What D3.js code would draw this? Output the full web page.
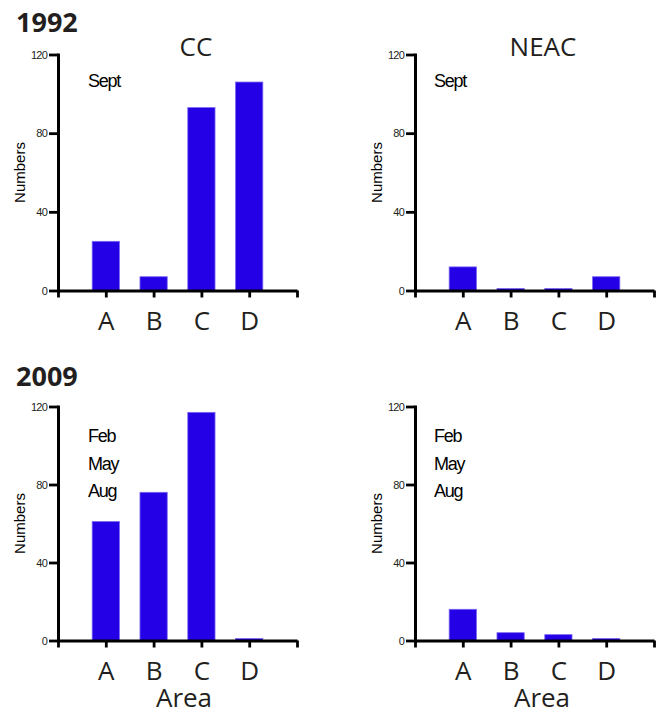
<!DOCTYPE html>
<html>
<head>
<meta charset="utf-8">
<script src="https://cdn.jsdelivr.net/npm/d3@7"></script>
<style>
  html, body { margin: 0; padding: 0; background: #ffffff; }
  svg { display: block; }
</style>
</head>
<body>
<svg id="chart" width="661" height="715"></svg>
<script>
// Sampling areas along the x axis
const areas = ["A", "B", "C", "D"];
// Numbers caught per area
const cc1992 = [25, 7, 93, 106];
const neac1992 = [12, 1, 1, 7];
const cc2009 = [61, 76, 117, 1];
const neac2009 = [16, 4, 3, 1];
// Y axis tick values
const yTicks = [0, 40, 80, 120];
// Survey months printed inside each panel
const months1992 = ["Sept"];
const months2009 = ["Feb", "May", "Aug"];
const years = ["1992", "2009"];
const stocks = ["CC", "NEAC"];

const svg = d3.select("#chart");
const BAR = "#2400e6";
const INK = "#231f20";
const TITLE_FONT = "'Open Sans', 'Noto Sans', sans-serif";
const ARIAL = "'Liberation Sans', Arial, sans-serif";

// layout of the 2x2 grid
const cols = [{ x0: 58, x1: 297, noteX: 88, titleX: 196, areaX: 184 },
              { x0: 415, x1: 654, noteX: 434, titleX: 543, areaX: 542 }];
const rows = [{ top: 54.5, zero: 290.5 }, { top: 406.5, zero: 640.5 }];

const panels = [
  { r: 0, c: 0, values: cc1992, notes: months1992, title: stocks[0] },
  { r: 0, c: 1, values: neac1992, notes: months1992, title: stocks[1] },
  { r: 1, c: 0, values: cc2009, notes: months2009, title: null },
  { r: 1, c: 1, values: neac2009, notes: months2009, title: null }
];

// year headings
svg.append("text").attr("x", 16).attr("y", 32)
  .attr("font-family", TITLE_FONT).attr("font-weight", 700).attr("font-size", 27)
  .attr("fill", INK).text(years[0]);
svg.append("text").attr("x", 16).attr("y", 386)
  .attr("font-family", TITLE_FONT).attr("font-weight", 700).attr("font-size", 27)
  .attr("fill", INK).text(years[1]);

panels.forEach(p => {
  const col = cols[p.c], row = rows[p.r];
  const g = svg.append("g");

  const y = d3.scaleLinear().domain([0, 120]).range([row.zero, row.top]);
  // slots 0..5: categories sit on 1..4, the ends carry bare ticks
  const x = d3.scaleLinear().domain([0, 5]).range([col.x0, col.x1]);
  const step = x(1) - x(0);
  const bw = step * 0.57;

  // bars
  g.selectAll("rect.bar").data(p.values).join("rect")
    .attr("class", "bar")
    .attr("x", (d, i) => x(i + 1) - bw / 2)
    .attr("width", bw)
    .attr("y", d => y(d))
    .attr("height", d => y(0) - y(d))
    .attr("fill", BAR)
    .attr("stroke", "#7866f2")
    .attr("stroke-width", 0.8);

  // y axis
  const yAxis = g.append("g")
    .attr("transform", `translate(${col.x0},0)`)
    .call(d3.axisLeft(y).tickValues(yTicks).tickSize(9).tickSizeOuter(0).tickPadding(2));
  yAxis.select(".domain").attr("stroke", "#000").attr("stroke-width", 3).attr("stroke-linecap", "square");
  yAxis.selectAll(".tick line").attr("stroke", "#000").attr("stroke-width", 2.8);
  yAxis.selectAll(".tick text")
    .attr("font-family", ARIAL).attr("font-size", 11).attr("letter-spacing", -0.8)
    .attr("fill", INK);

  // x axis
  const xAxis = g.append("g")
    .attr("transform", `translate(0,${row.zero})`)
    .call(d3.axisBottom(x).tickValues([0, 1, 2, 3, 4, 5]).tickSize(7).tickSizeOuter(0)
      .tickPadding(14).tickFormat(v => (v >= 1 && v <= 4) ? areas[v - 1] : ""));
  xAxis.select(".domain").attr("stroke", "#000").attr("stroke-width", 3);
  xAxis.selectAll(".tick line").attr("stroke", "#000").attr("stroke-width", 2.8);
  xAxis.selectAll(".tick text")
    .attr("font-family", TITLE_FONT).attr("font-size", 26).attr("fill", INK);

  // y axis title
  g.append("text")
    .attr("transform", `translate(${col.x0 - 33.5},${(row.top + row.zero) / 2}) rotate(-90)`)
    .attr("text-anchor", "middle")
    .attr("font-family", ARIAL).attr("font-size", 15)
    .attr("fill", "#000").text("Numbers");

  // survey months
  g.selectAll("text.note").data(p.notes).join("text")
    .attr("class", "note")
    .attr("x", col.noteX)
    .attr("y", (d, i) => (p.r === 0 ? 87 : row.top + 35.5) + i * 27.5)
    .attr("font-family", ARIAL).attr("font-size", 18).attr("letter-spacing", -1.3)
    .attr("fill", "#000").text(d => d);

  // stock heading
  if (p.title) {
    g.append("text").attr("x", col.titleX).attr("y", 56)
      .attr("text-anchor", "middle")
      .attr("font-family", TITLE_FONT).attr("font-size", 26)
      .attr("fill", INK).text(p.title);
  }

  // x axis title under the lower row
  if (p.r === 1) {
    g.append("text").attr("x", col.areaX).attr("y", 707)
      .attr("text-anchor", "middle")
      .attr("font-family", TITLE_FONT).attr("font-size", 26)
      .attr("fill", INK).text("Area");
  }
});
</script>
</body>
</html>
